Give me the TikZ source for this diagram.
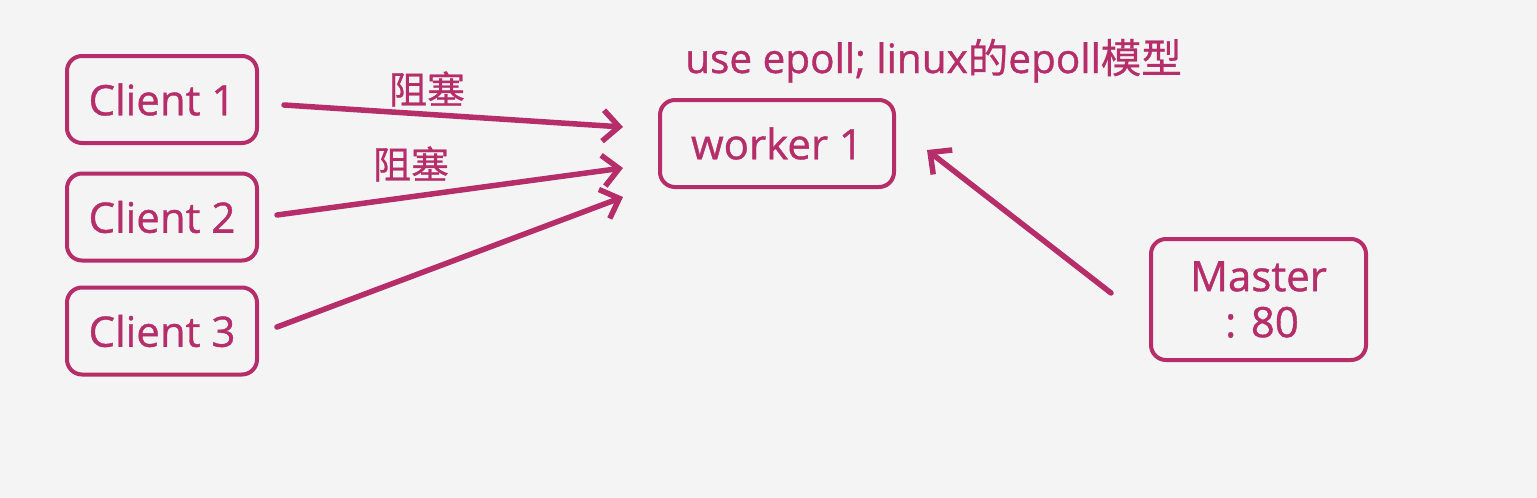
\documentclass[tikz,border=0pt]{standalone}
\usepackage{fontspec}
\setmainfont{Open Sans}[FakeBold=0.9]
\newfontfamily\cjk{Noto Sans CJK SC}[FakeBold=0.6]
\usetikzlibrary{arrows.meta}
\definecolor{rose}{RGB}{181,45,105}
\definecolor{paper}{RGB}{244,244,244}

\begin{document}
\begin{tikzpicture}[
  x=1pt, y=-1pt,
  box/.style={draw=rose, line width=4pt, rounded corners=15pt, fill=paper,
              text=rose, font=\fontsize{42}{50}\selectfont, align=center,
              inner sep=0pt},
  arr/.style={draw=rose, line width=5.5pt, line cap=round, line join=round,
              -{Straight Barb[length=16pt, width=31pt]}},
  lbl/.style={text=rose, inner sep=0pt},
]
  \fill[paper] (0,0) rectangle (1537,498);

  \node[box, minimum width=190pt, minimum height=87pt] (c1) at (162,99.5) {Client 1};
  \node[box, minimum width=190pt, minimum height=87pt] (c2) at (162,217)  {Client 2};
  \node[box, minimum width=190pt, minimum height=87pt] (c3) at (162,331)  {Client 3};
  \node[box, minimum width=234pt, minimum height=87pt] (w1) at (777,143.5) {worker 1};
  \node[box, minimum width=215pt, minimum height=121pt] (m) at (1258.5,299.5) {Master\\[-4pt]\,: 80};

  \node[lbl, anchor=base west, font=\fontsize{40.5}{48}\selectfont] (t) at (685,73)
    {use epoll; linux{\cjk 的}epoll{\cjk 模型}};
  \node[lbl, font=\fontsize{38}{42}\cjk] (b1) at (427,89)  {阻塞};
  \node[lbl, font=\fontsize{38}{42}\cjk] (b2) at (411,164) {阻塞};

  \draw[arr] ([xshift=25pt,yshift=-5.5pt]c1.east) -- ([xshift=-35pt,yshift=16.5pt]w1.west);
  \draw[arr] ([xshift=18pt,yshift=2pt]c2.east) -- ([xshift=-35pt,yshift=-24.5pt]w1.west);
  \draw[arr] ([xshift=18pt,yshift=4pt]c3.east) -- ([xshift=-35pt,yshift=-53.5pt]w1.west);
  \draw[arr] ([xshift=-38pt,yshift=6.5pt]m.west) -- ([xshift=31pt,yshift=-6.5pt]w1.east);
\end{tikzpicture}
\end{document}
